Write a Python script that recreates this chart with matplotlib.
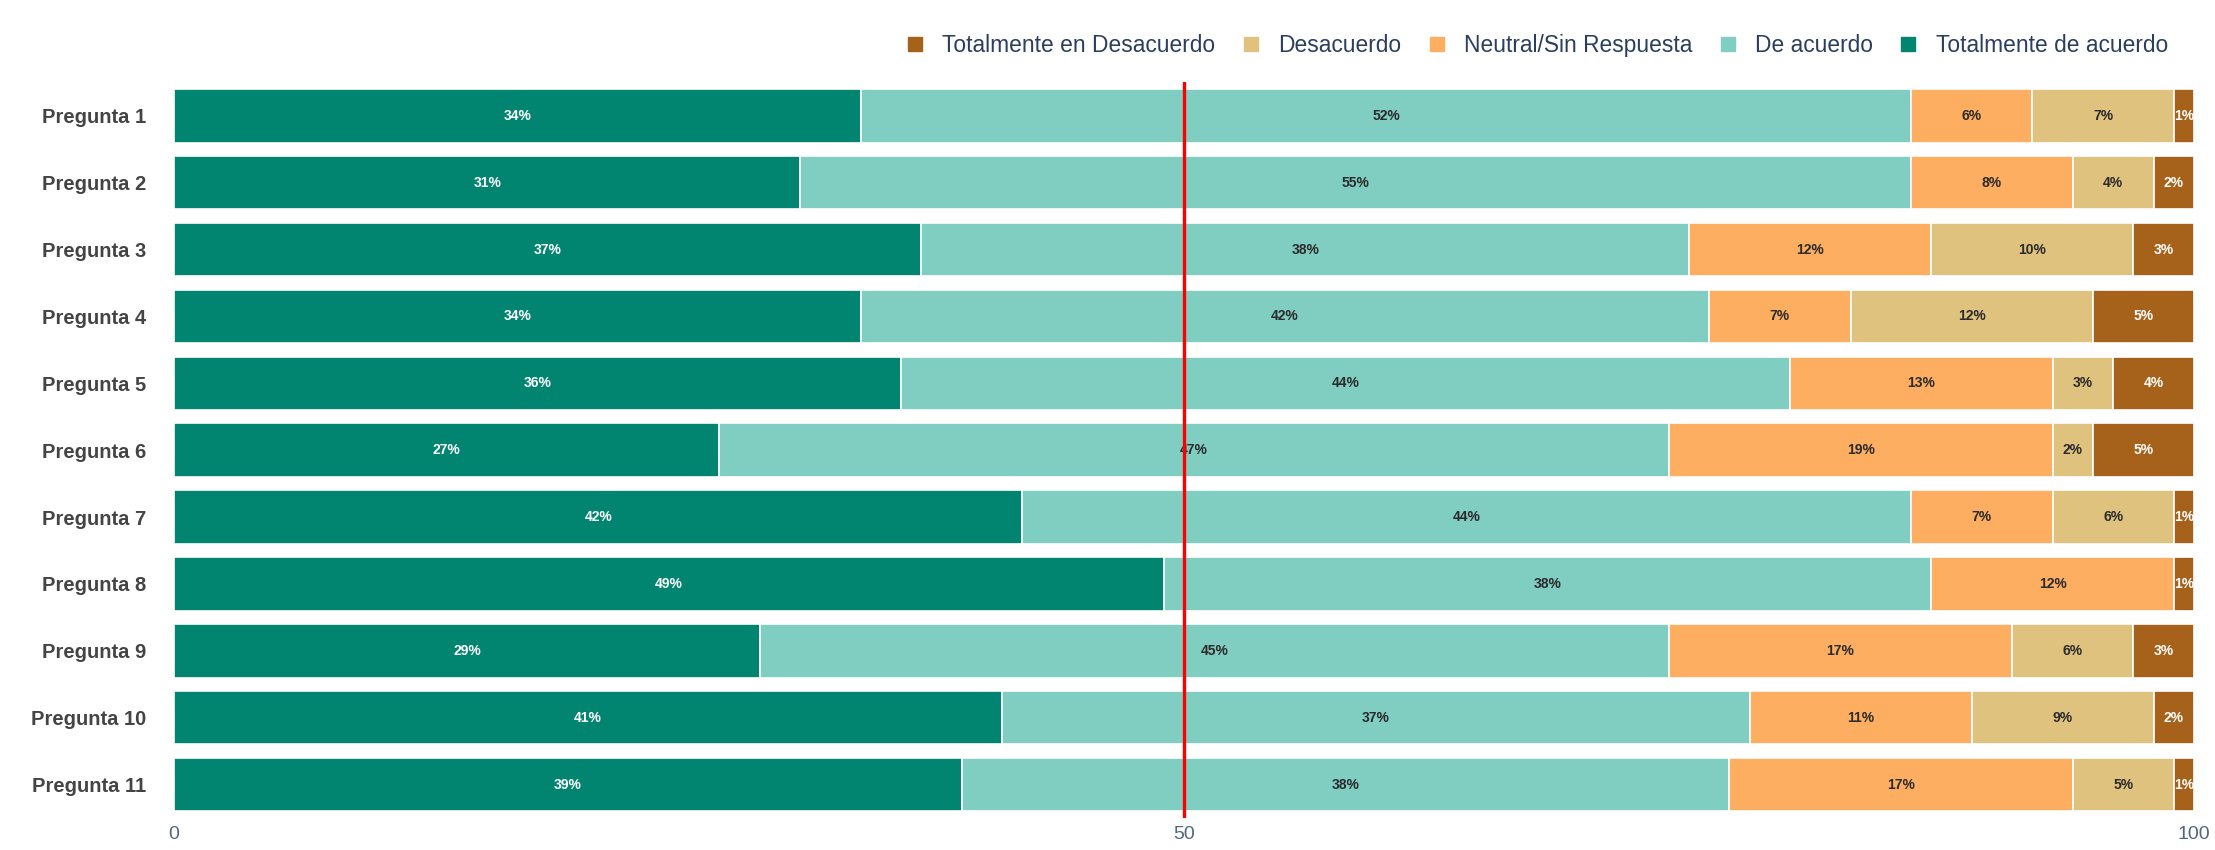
import numpy as np
import matplotlib.pyplot as plt
from matplotlib.lines import Line2D

plt.rcParams['font.family'] = ['Liberation Sans', 'DejaVu Sans']

preguntas = ["Pregunta 1", "Pregunta 2", "Pregunta 3", "Pregunta 4", "Pregunta 5", "Pregunta 6",
             "Pregunta 7", "Pregunta 8", "Pregunta 9", "Pregunta 10", "Pregunta 11"]

totalmente_acuerdo = [34, 31, 37, 34, 36, 27, 42, 49, 29, 41, 39]
de_acuerdo = [52, 55, 38, 42, 44, 47, 44, 38, 45, 37, 38]
neutral = [6, 8, 12, 7, 13, 19, 7, 12, 17, 11, 17]
desacuerdo = [7, 4, 10, 12, 3, 2, 6, 0, 6, 9, 5]
totalmente_desacuerdo = [1, 2, 3, 5, 4, 5, 1, 1, 3, 2, 1]

series = [
    ("Totalmente de acuerdo", totalmente_acuerdo, "#018571", "white"),
    ("De acuerdo", de_acuerdo, "#80cdc1", "#2b2b2b"),
    ("Neutral/Sin Respuesta", neutral, "#fdae61", "#2b2b2b"),
    ("Desacuerdo", desacuerdo, "#dfc27d", "#2b2b2b"),
    ("Totalmente en Desacuerdo", totalmente_desacuerdo, "#a6611a", "white"),
]

fig = plt.figure(figsize=(22.15, 8.5), dpi=100)
ax = fig.add_axes([0.0786, 0.0376, 0.9119, 0.8655])

y = np.arange(len(preguntas))
left = np.zeros(len(preguntas))
for name, vals, color, tcolor in series:
    vals = np.array(vals, dtype=float)
    ax.barh(y, vals, left=left, height=0.8, color=color, edgecolor="white", linewidth=1.2)
    for yi, l, v in zip(y, left, vals):
        if v > 0:
            ax.text(l + v / 2, yi, f"{int(v)}%", ha="center", va="center",
                    fontsize=10, fontweight="bold", color=tcolor)
    left += vals

ax.axvline(50, color="red", linewidth=2.4, zorder=5)

ax.set_xlim(0, 100)
ax.set_ylim(len(preguntas) - 0.5, -0.5)
ax.set_yticks(y)
ax.set_yticklabels(preguntas, fontsize=14.5, fontweight="bold", color="#444444")
ax.set_xticks([0, 50, 100])
ax.set_xticklabels(["0", "50", "100"], fontsize=14, color="#506784")
ax.tick_params(axis="y", length=0, pad=20)
ax.tick_params(axis="x", length=0, pad=6)
for s in ax.spines.values():
    s.set_visible(False)

handles = []
labels = []
for name, vals, color, tcolor in reversed(series):
    handles.append(Line2D([], [], marker="s", linestyle="none", markersize=10,
                          markerfacecolor=color, markeredgecolor=color))
    labels.append(name)
leg = fig.legend(handles, labels, ncol=5, loc="center right", bbox_to_anchor=(0.988, 0.947),
                 frameon=False, fontsize=16.4, handletextpad=0.7, columnspacing=1.05,
                 handlelength=1.0)
for t in leg.get_texts():
    t.set_color("#2a3f5f")

fig.savefig("out.png", dpi=100)
